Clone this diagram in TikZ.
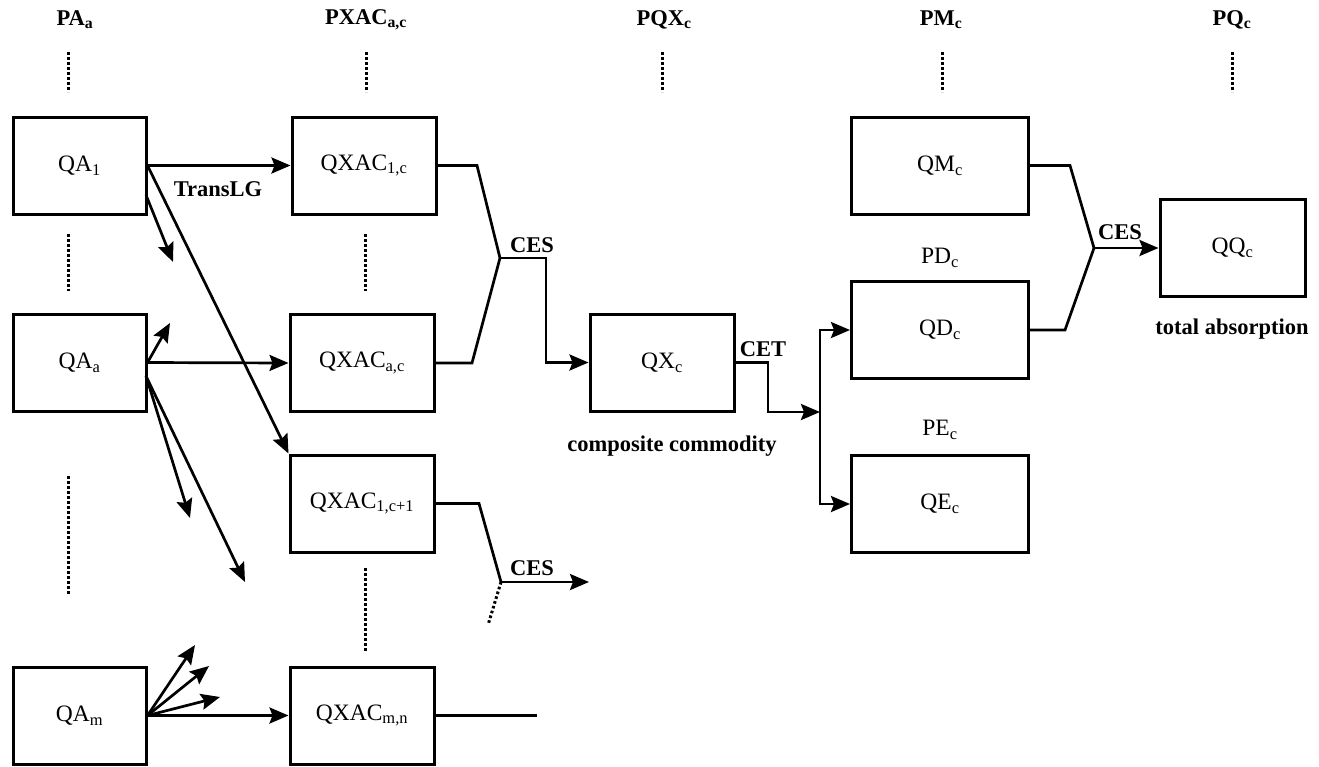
\documentclass[tikz,border=0pt]{standalone}
\usepackage{fontspec}
\setmainfont{Liberation Serif}
\usetikzlibrary{arrows.meta,calc}
\begin{document}
\begin{tikzpicture}[x=1pt,y=-1pt,
 box/.style={draw, line width=3pt, minimum height=97pt, inner sep=0pt, font=\fontsize{23.5}{27}\selectfont},
 ln/.style={line width=2.7pt, line join=miter},
 arr/.style={ln, -{Stealth[length=19pt,width=16pt,inset=3pt]}},
 dots/.style={line width=3pt, dash pattern=on 2.6pt off 2.4pt},
 lab/.style={font=\bfseries\fontsize{22.5}{26}\selectfont, inner sep=0pt},
 plab/.style={font=\fontsize{23.5}{27}\selectfont, inner sep=0pt}]
\useasboundingbox (0,0) rectangle (1319,766);
% top price labels
\node[lab] (pa) at (75,20) {PA\textsubscript{a}};
\node[lab] (pxac) at (366,20) {PXAC\textsubscript{a,c}};
\node[lab] (pqx) at (664,20) {PQX\textsubscript{c}};
\node[lab] (pm) at (941,20) {PM\textsubscript{c}};
\node[lab] (pq) at (1232,20) {PQ\textsubscript{c}};
\draw[dots] (68,52) -- (68,92);
\draw[dots] (366,52) -- (366,92);
\draw[dots] (662,52) -- (662,92);
\draw[dots] (942,52) -- (942,92);
\draw[dots] (1232,52) -- (1232,92);
% column dots
\draw[dots] (68,234) -- (68,291);
\draw[dots] (68,476) -- (68,594);
\draw[dots] (365,234) -- (365,291);
\draw[dots] (365,568) -- (365,652);
% boxes
\node[box,minimum width=133pt] (qa1) at (79.5,165.5) {QA\textsubscript{1}};
\node[box,minimum width=133pt] (qaa) at (79.5,362.5) {QA\textsubscript{a}};
\node[box,minimum width=133pt] (qam) at (79.5,715.5) {QA\textsubscript{m}};
\node[box,minimum width=144pt] (x1c) at (364,165.5) {QXAC\textsubscript{1,c}};
\node[box,minimum width=144pt] (xac) at (362,363) {QXAC\textsubscript{a,c}};
\node[box,minimum width=144pt] (x1c1) at (362,503.5) {QXAC\textsubscript{1,c+1}};
\node[box,minimum width=144pt] (xmn) at (362,715.5) {QXAC\textsubscript{m,n}};
\node[box,minimum width=144pt] (qx) at (662,362.5) {QX\textsubscript{c}};
\node[box,minimum width=177pt] (qm) at (940,165.5) {QM\textsubscript{c}};
\node[box,minimum width=177pt] (qd) at (940,330) {QD\textsubscript{c}};
\node[box,minimum width=177pt] (qe) at (940,504) {QE\textsubscript{c}};
\node[box,minimum width=145pt] (qq) at (1232.5,248) {QQ\textsubscript{c}};
% QA1 arrows
\draw[arr] (qa1.east) -- (x1c.west);
\node[lab] (tlg) at (218,189) {TransLG};
\draw[arr] (qa1.east) -- (x1c1.north west);
\coordinate (a1s) at (146,195);
\coordinate (a1e) at (173,262);
\draw[arr] (a1s) -- (a1e);
% QAa arrows
\coordinate (aau) at (170,323);
\draw[arr] (qaa.east) -- (aau);
\draw[arr] (qaa.east) -- (xac.west);
\coordinate (aas) at (146,376);
\coordinate (aad1) at (190,518);
\coordinate (aad2) at (245,582);
\draw[arr] (aas) -- (aad1);
\draw[arr] (aas) -- (aad2);
% QAm arrows
\coordinate (m1) at (195,645);
\coordinate (m2) at (209,666);
\coordinate (m3) at (220,697);
\draw[arr] (qam.east) -- (m1);
\draw[arr] (qam.east) -- (m2);
\draw[arr] (qam.east) -- (m3);
\draw[arr] (qam.east) -- (xmn.west);
% CES 1
\coordinate (k1) at (477,165.5);
\coordinate (j1) at (500,258);
\coordinate (k2) at (472,363);
\coordinate (k3) at (546,258);
\draw[ln] (x1c.east) -- (k1) -- (j1);
\draw[ln] (xac.east) -- (k2) -- (j1);
\draw[arr] (j1) -- (k3) |- (qx.west);
\node[lab] (ces1) at (532,245) {CES};
% CES 2
\coordinate (k4) at (479,503.5);
\coordinate (j2) at (501,582);
\coordinate (e2) at (589,582);
\coordinate (d2) at (488,625);
\draw[ln] (x1c1.east) -- (k4) -- (j2);
\draw[arr] (j2) -- (e2);
\draw[dots] (j2) -- (d2);
\node[lab] (ces2) at (532,568) {CES};
% QXAC m,n
\coordinate (e3) at (537,715.5);
\draw[ln] (xmn.east) -- (e3);
% CET
\coordinate (c1) at (768,362.5);
\coordinate (c2) at (768,412);
\coordinate (j3) at (820,412);
\coordinate (v1) at (820,330);
\coordinate (v2) at (820,504);
\draw[arr] (qx.east) -- (c1) -- (c2) -- (j3);
\draw[arr] (v2) -- (v1) -- (qd.west);
\draw[arr] (v1) -- (v2) -- (qe.west);
\node[lab] (cet) at (763,349) {CET};
\node[lab] (comp) at (672,446) {composite commodity};
\node[plab] (pd) at (940,258) {PD\textsubscript{c}};
\node[plab] (pe) at (940,430) {PE\textsubscript{c}};
% CES 3
\coordinate (k5) at (1070,165.5);
\coordinate (j4) at (1094,248);
\coordinate (k6) at (1065,330);
\draw[ln] (qm.east) -- (k5) -- (j4);
\draw[ln] (qd.east) -- (k6) -- (j4);
\draw[arr] (j4) -- (qq.west);
\node[lab] (ces3) at (1120,232) {CES};
\node[lab] (tabs) at (1232,329) {total absorption};
\end{tikzpicture}
\end{document}
